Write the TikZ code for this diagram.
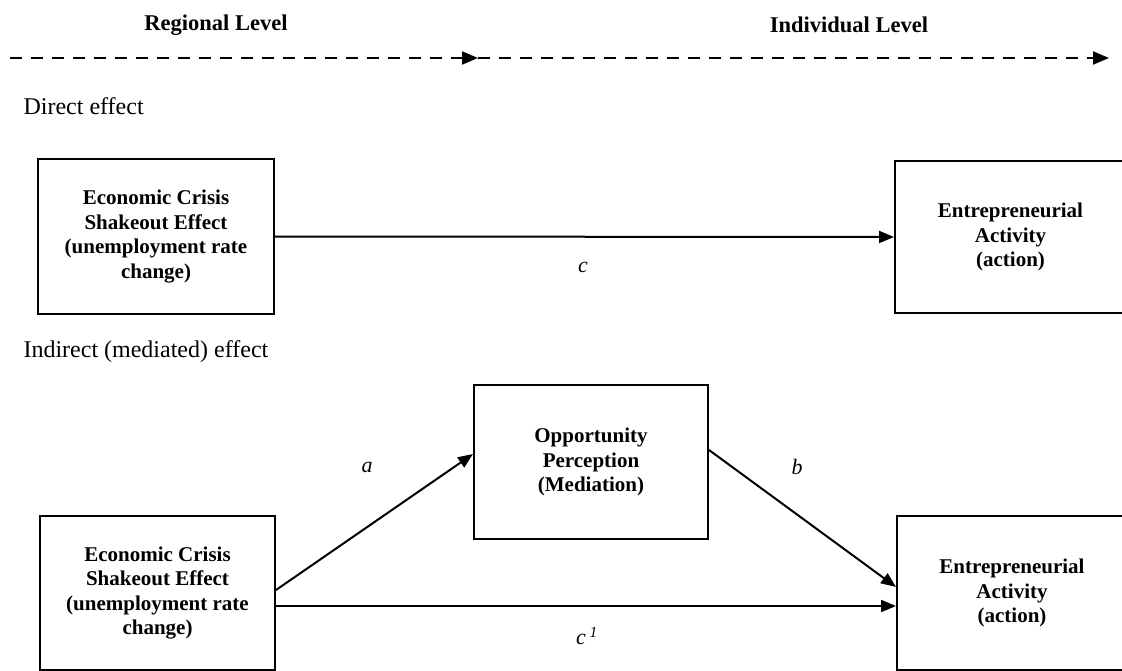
\documentclass[tikz,border=0pt]{standalone}
\usepackage{fontspec}
\setmainfont{Liberation Serif}
\usetikzlibrary{arrows.meta}
\tikzset{
  box/.style={draw, line width=2pt, align=center, inner sep=0pt,
    font=\fontsize{21}{24.5}\selectfont\bfseries},
  link/.style={line width=2pt, -{Triangle[length=15pt,width=12pt]}},
  levelarrow/.style={line width=2pt, dash pattern=on 12pt off 9pt, -{Triangle[length=16pt,width=13pt]}},
  header/.style={font=\fontsize{22.5}{26}\selectfont\bfseries},
  section/.style={font=\fontsize{24}{28}\selectfont, anchor=west},
  pathlabel/.style={font=\fontsize{22}{26}\selectfont\itshape}
}
\begin{document}
\begin{tikzpicture}[x=1pt,y=-1pt]
\useasboundingbox (0,0) rectangle (1122,671);
% level headers
\node[header] (reg) at (216,25) {Regional Level};
\node[header] (ind) at (849,25) {Individual Level};
\coordinate (d0) at (10,58);
\coordinate (d1) at (478,58);
\coordinate (d2) at (1109,58);
\draw[levelarrow] (d0) -- (d1);
\draw[levelarrow] (d1) -- (d2);
% section titles
\node[section] (direct) at (20,106) {Direct effect};
\node[section] (indirect) at (20,352) {Indirect (mediated) effect};
% direct effect boxes
\node[box, minimum width=236pt, minimum height=155pt] (tl) at (156,236.5)
  {Economic Crisis\\Shakeout Effect\\(unemployment rate\\change)};
\node[box, minimum width=231pt, minimum height=152pt] (tr) at (1010.5,237)
  {Entrepreneurial\\Activity\\(action)};
\draw[link] (tl.east) -- (tr.west);
\node[pathlabel] (lc) at (583,267) {c};
% indirect effect boxes
\node[box, minimum width=234pt, minimum height=154pt] (mid) at (591,462)
  {Opportunity\\Perception\\(Mediation)};
\node[box, minimum width=235pt, minimum height=154pt] (lb) at (157.5,593)
  {Economic Crisis\\Shakeout Effect\\(unemployment rate\\change)};
\node[box, minimum width=230pt, minimum height=154pt] (rb) at (1012,593)
  {Entrepreneurial\\Activity\\(action)};
\draw[link] ([yshift=3pt]lb.east) -- ([yshift=8pt]mid.west);
\draw[link] ([yshift=12pt]mid.east) -- ([yshift=6pt]rb.west);
\draw[link] ([yshift=-13pt]lb.east) -- ([yshift=-13pt]rb.west);
\node[pathlabel] (la) at (367,467) {a};
\node[pathlabel] (lb2) at (797,467) {b};
\node[pathlabel] (lc2) at (587,636) {c\,\textsuperscript{1}};
\end{tikzpicture}
\end{document}
